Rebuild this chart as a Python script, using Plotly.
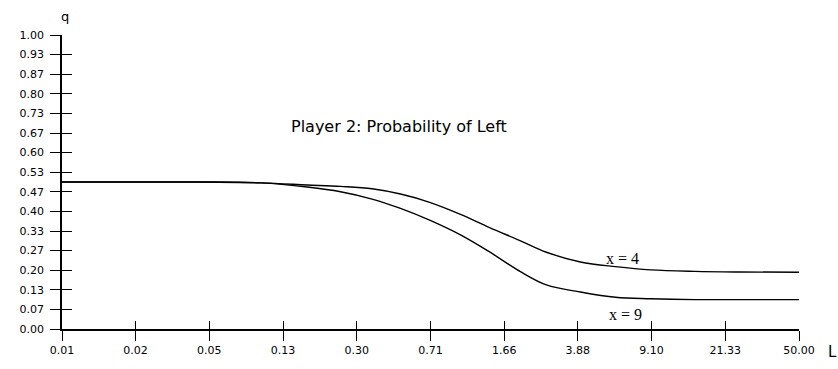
import math
import plotly.graph_objects as go

# ---- data ----
L_vals = [0.01, 0.02, 0.05, 0.1, 0.17, 0.25, 0.36, 0.5, 0.7, 1.0, 1.4, 2.0, 2.7, 4.0, 6.0, 9.0, 15, 25, 50]
q_x4 = [0.5, 0.5, 0.5, 0.497, 0.49, 0.485, 0.477, 0.459, 0.431, 0.39, 0.345, 0.30, 0.261, 0.228, 0.212, 0.201, 0.196, 0.194, 0.193]
q_x9 = [0.5, 0.5, 0.5, 0.497, 0.483, 0.467, 0.442, 0.41, 0.37, 0.32, 0.262, 0.195, 0.15, 0.126, 0.108, 0.103, 0.10, 0.10, 0.10]

x_tick_vals = [0.01, 0.0234, 0.0549, 0.1287, 0.3016, 0.7067, 1.6561, 3.8809, 9.0943, 21.311, 50.0]
x_tick_text = ["0.01", "0.02", "0.05", "0.13", "0.30", "0.71", "1.66", "3.88", "9.10", "21.33", "50.00"]
y_tick_text = ["0.00", "0.07", "0.13", "0.20", "0.27", "0.33", "0.40", "0.47", "0.53",
               "0.60", "0.67", "0.73", "0.80", "0.87", "0.93", "1.00"]
y_tick_vals = [i / 15 for i in range(len(y_tick_text))]

title_text = "Player 2: Probability of Left"
series_names = ["x = 4", "x = 9"]

FONT = "DejaVu Sans"
xr = [math.log10(0.01), math.log10(50)]

fig = go.Figure()
fig.add_trace(go.Scatter(x=L_vals, y=q_x4, mode="lines", line=dict(color="black", width=1.4),
                         line_shape="spline", showlegend=False, name=series_names[0]))
fig.add_trace(go.Scatter(x=L_vals, y=q_x9, mode="lines", line=dict(color="black", width=1.4),
                         line_shape="spline", showlegend=False, name=series_names[1]))
# invisible trace to activate overlay axes (for crossing tick marks)
fig.add_trace(go.Scatter(x=[None], y=[None], xaxis="x2", yaxis="y2", showlegend=False, hoverinfo="skip"))

tickfont = dict(family=FONT, size=11, color="black")

fig.update_layout(
    width=838, height=369,
    margin=dict(l=62, r=39, t=35, b=34),
    paper_bgcolor="white", plot_bgcolor="white",
    showlegend=False,
    xaxis=dict(type="log", range=xr, tickvals=x_tick_vals, ticktext=x_tick_text,
               ticks="outside", ticklen=10, tickwidth=1.3, tickcolor="black",
               showline=True, linecolor="black", linewidth=1.5, showgrid=False,
               zeroline=False, tickfont=tickfont),
    yaxis=dict(range=[0, 1], tickvals=y_tick_vals, ticktext=y_tick_text,
               ticks="outside", ticklen=10, tickwidth=1.3, tickcolor="black",
               showline=True, linecolor="black", linewidth=1.5, showgrid=False,
               zeroline=False, tickfont=tickfont, ticklabelstandoff=4),
    xaxis2=dict(type="log", range=xr, tickvals=x_tick_vals, showticklabels=False,
                ticks="inside", ticklen=8, tickwidth=1.3, tickcolor="black",
                overlaying="x", anchor="y", side="bottom", showgrid=False, showline=False, zeroline=False),
    yaxis2=dict(range=[0, 1], tickvals=y_tick_vals, showticklabels=False,
                ticks="inside", ticklen=10, tickwidth=1.3, tickcolor="black",
                overlaying="y", anchor="x", side="left", showgrid=False, showline=False, zeroline=False),
    annotations=[
        dict(text=title_text, xref="paper", yref="paper", x=0.4566, y=0.69,
             showarrow=False, font=dict(family=FONT, size=16, color="black"),
             xanchor="center", yanchor="middle"),
        dict(text=series_names[0], xref="x", yref="y", x=math.log10(6.5), y=0.24,
             showarrow=False, font=dict(family="Liberation Serif", size=16, color="black"),
             xanchor="center", yanchor="middle"),
        dict(text=series_names[1], xref="x", yref="y", x=math.log10(6.7), y=0.05,
             showarrow=False, font=dict(family="Liberation Serif", size=16, color="black"),
             xanchor="center", yanchor="middle"),
        dict(text="q", xref="paper", yref="paper", x=0.004, y=1.063,
             showarrow=False, font=dict(family=FONT, size=13, color="black"),
             xanchor="center", yanchor="middle"),
        dict(text="L", xref="paper", yref="paper", x=1.045, y=-0.077,
             showarrow=False, font=dict(family=FONT, size=15, color="black"),
             xanchor="center", yanchor="middle"),
    ],
)

fig.write_html("out.html")
